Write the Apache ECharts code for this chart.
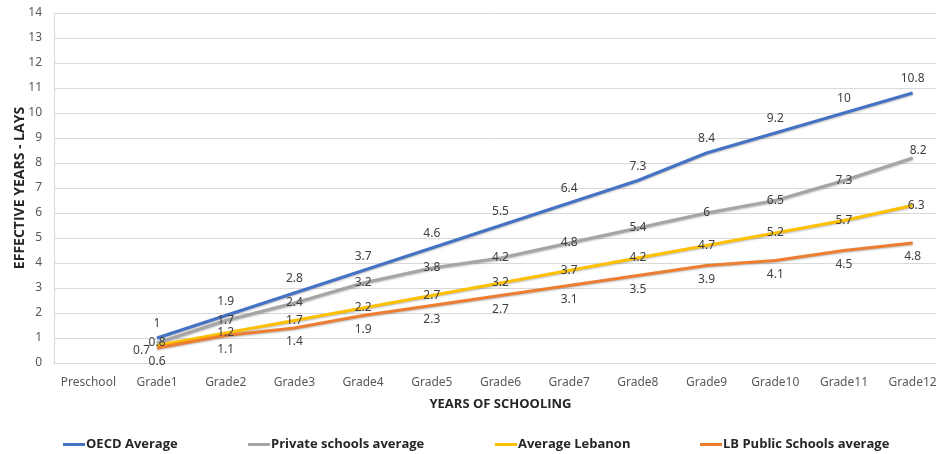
<!DOCTYPE html>
<html>
<head>
<meta charset="utf-8">
<script src="https://cdn.jsdelivr.net/npm/echarts@6/dist/echarts.min.js"></script>
<style>
  html, body { margin: 0; padding: 0; background: #ffffff; }
  #chart { width: 936px; height: 454px; }
</style>
</head>
<body>
<div id="chart"></div>
<script>
// School years on the x axis
const categories = ['Preschool', 'Grade1', 'Grade2', 'Grade3', 'Grade4', 'Grade5', 'Grade6',
  'Grade7', 'Grade8', 'Grade9', 'Grade10', 'Grade11', 'Grade12'];

// Effective years (LAYS) per series; no value for Preschool
const oecdAverage     = [null, 1, 1.9, 2.8, 3.7, 4.6, 5.5, 6.4, 7.3, 8.4, 9.2, 10, 10.8];
const privateAverage  = [null, 0.8, 1.7, 2.4, 3.2, 3.8, 4.2, 4.8, 5.4, 6, 6.5, 7.3, 8.2];
const lebanonAverage  = [null, 0.7, 1.2, 1.7, 2.2, 2.7, 3.2, 3.7, 4.2, 4.7, 5.2, 5.7, 6.3];
const publicAverage   = [null, 0.6, 1.1, 1.4, 1.9, 2.3, 2.7, 3.1, 3.5, 3.9, 4.1, 4.5, 4.8];

const seriesNames = ['OECD Average', 'Private schools average', 'Average Lebanon', 'LB Public Schools average'];
const colors = ['#4472C4', '#A5A5A5', '#FFC000', '#ED7D31'];

const tickFont = 'Noto Sans';
const titleFont = 'Open Sans';

// Builds a line series; labelOverrides maps a point index to its own label settings
function lineSeries(name, values, color, labelPos, labelOverrides) {
  const overrides = labelOverrides || {};
  return {
    name: name,
    type: 'line',
    data: values.map((v, i) => overrides[i] ? { value: v, label: overrides[i] } : v),
    symbol: 'circle',
    symbolSize: 0,
    showSymbol: true,
    connectNulls: false,
    lineStyle: { color: color, width: 3, shadowColor: 'rgba(0,0,0,0.28)', shadowBlur: 2, shadowOffsetY: 1 },
    itemStyle: { color: color },
    label: {
      show: true,
      position: labelPos,
      distance: 8,
      fontFamily: tickFont,
      fontSize: 12,
      color: '#404040'
    },
    emphasis: { disabled: true }
  };
}

const legendLefts = [63, 248, 495, 700];
const legends = seriesNames.map((n, i) => ({
  data: [n],
  left: legendLefts[i],
  top: 438,
  padding: 0,
  icon: 'rect',
  itemWidth: 22,
  itemHeight: 3,
  itemGap: 0,
  selectedMode: false,
  textStyle: { fontFamily: titleFont, fontWeight: 'bold', fontSize: 13, color: '#262626', padding: [0, 0, 0, -4] }
}));

const chart = echarts.init(document.getElementById('chart'), null, { renderer: 'canvas' });
chart.setOption({
  animation: false,
  backgroundColor: '#ffffff',
  color: colors,
  legend: legends,
  // the plot runs slightly past the right edge of the canvas
  grid: { left: 54, width: 893, top: 13, bottom: 91, containLabel: false, outerBoundsMode: 'none' },
  xAxis: {
    type: 'category',
    data: categories,
    boundaryGap: true,
    name: 'YEARS OF SCHOOLING',
    nameLocation: 'middle',
    nameGap: 35,
    nameTextStyle: { fontFamily: titleFont, fontWeight: 'bold', fontSize: 13, color: '#262626' },
    axisLine: { lineStyle: { color: '#D9D9D9', width: 1 } },
    axisTick: { show: false },
    axisLabel: { interval: 0, fontFamily: tickFont, fontSize: 12, color: '#595959', margin: 14 },
    splitLine: { show: false }
  },
  yAxis: {
    type: 'value',
    min: 0,
    max: 14,
    interval: 1,
    name: 'EFFECTIVE YEARS - LAYS',
    nameLocation: 'middle',
    nameGap: 27,
    nameMoveOverlap: false,
    nameRotate: 90,
    nameTextStyle: { fontFamily: titleFont, fontWeight: 'bold', fontSize: 14, color: '#262626' },
    axisLine: { show: true, lineStyle: { color: '#D9D9D9', width: 1 } },
    axisTick: { show: false },
    axisLabel: { fontFamily: tickFont, fontSize: 12, color: '#595959', margin: 12 },
    splitLine: { lineStyle: { color: '#D9D9D9', width: 1 } }
  },
  series: [
    lineSeries(seriesNames[0], oecdAverage, colors[0], 'top'),
    lineSeries(seriesNames[1], privateAverage, colors[1], 'inside',
      { 12: { position: [-3, -1], align: 'left', verticalAlign: 'bottom' } }),
    lineSeries(seriesNames[2], lebanonAverage, colors[2], 'inside',
      { 1: { position: [-7, -1], align: 'right', verticalAlign: 'top' },
        12: { position: [-5, 0], align: 'left', verticalAlign: 'middle' } }),
    lineSeries(seriesNames[3], publicAverage, colors[3], 'bottom')
  ]
});
</script>
</body>
</html>
